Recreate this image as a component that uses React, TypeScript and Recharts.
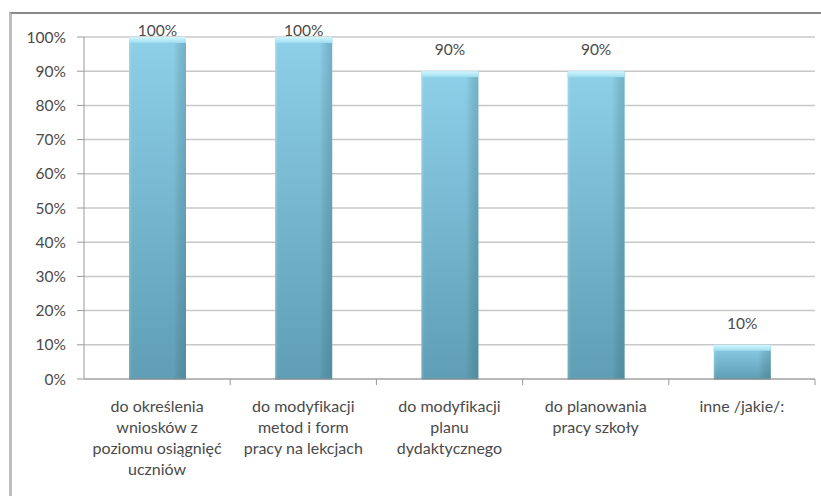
import React from "react";
import { BarChart, Bar, XAxis, YAxis, CartesianGrid, LabelList } from "recharts";

const categories: string[] = [
  "do określenia\nwniosków z\npoziomu osiągnięć\nuczniów",
  "do modyfikacji\nmetod i form\npracy na lekcjach",
  "do modyfikacji\nplanu\ndydaktycznego",
  "do planowania\npracy szkoły",
  "inne /jakie/:",
];
const values: number[] = [100, 100, 90, 90, 10];
const yTicks: number[] = [0, 10, 20, 30, 40, 50, 60, 70, 80, 90, 100];

const data = categories.map((c, i) => ({ name: c, value: values[i] }));

const FONT = "Lato, 'Open Sans', sans-serif";
const TEXT = "#4a4a4a";
const W = 821;
const H = 496;
const MARGIN = { top: 37, right: 6, left: 24, bottom: 17 };
const YAXIS_W = 60;
const BAND_HALF = (W - MARGIN.left - YAXIS_W - MARGIN.right) / categories.length / 2;

const BarShape = (props: any) => {
  const { x, y, width, height } = props;
  if (!height || height <= 0) return null;
  return (
    <g>
      <rect x={x} y={y} width={width} height={height} fill="url(#barGrad)" />
      <rect x={x} y={y} width={width} height={height} fill="url(#barSide)" />
      <rect x={x} y={y} width={width} height={Math.min(6, height)} fill="url(#barTop)" />
      <line x1={x} x2={x + width} y1={y + height} y2={y + height} stroke="#4f7f90" strokeWidth={1} />
    </g>
  );
};

const ValueLabel = (props: any) => {
  const { x, y, width, value } = props;
  const baseline = Math.max(y - 16, MARGIN.top - 1);
  return (
    <text
      x={x + width / 2}
      y={baseline}
      textAnchor="middle"
      fontFamily={FONT}
      fontSize={15.5}
      fill={TEXT}
    >
      {`${value}%`}
    </text>
  );
};

const XTick = (props: any) => {
  const { x, y, payload } = props;
  const lines = String(payload.value).split("\n");
  return (
    <g>
      <line x1={x + BAND_HALF} x2={x + BAND_HALF} y1={y - 8} y2={y - 2} stroke="#999" />
      <text
        x={x}
        y={y + 25}
        textAnchor="middle"
        fontFamily={FONT}
        fontSize={16}
        fill={TEXT}
        style={{ fontVariantLigatures: "none" }}
      >
        {lines.map((l, i) => (
          <tspan key={i} x={x} dy={i === 0 ? 0 : 21}>
            {l}
          </tspan>
        ))}
      </text>
    </g>
  );
};

export default function App() {
  return (
    <div style={{ position: "fixed", left: 0, top: 0, width: W, height: H, background: "#fff" }}>
      <div
        style={{
          position: "absolute",
          left: 9,
          top: 12,
          width: W - 9,
          height: H - 12,
          borderTop: "2px solid #8a8a8a",
          borderLeft: "3px solid #bdbdbd",
          boxSizing: "border-box",
        }}
      />
      <div style={{ position: "absolute", left: 0, top: 0 }}>
        <BarChart width={W} height={H} data={data} margin={MARGIN} barSize={57}>
          <defs>
            <linearGradient id="barGrad" x1="0" y1="0" x2="0" y2="1">
              <stop offset="0%" stopColor="#8dd0e8" />
              <stop offset="100%" stopColor="#5f9eb4" />
            </linearGradient>
            <linearGradient id="barSide" x1="0" y1="0" x2="1" y2="0">
              <stop offset="0%" stopColor="#ffffff" stopOpacity={0.15} />
              <stop offset="6%" stopColor="#ffffff" stopOpacity={0} />
              <stop offset="78%" stopColor="#000000" stopOpacity={0} />
              <stop offset="100%" stopColor="#1d4a5a" stopOpacity={0.22} />
            </linearGradient>
            <linearGradient id="barTop" x1="0" y1="0" x2="0" y2="1">
              <stop offset="0%" stopColor="#d2f7ff" />
              <stop offset="100%" stopColor="#9ddcef" />
            </linearGradient>
          </defs>
          <CartesianGrid vertical={false} stroke="#c8c8c8" strokeWidth={1.5} />
          <XAxis
            dataKey="name"
            interval={0}
            height={100}
            stroke="#9a9a9a"
            tickLine={false}
            tick={<XTick />}
          />
          <YAxis
            width={YAXIS_W}
            domain={[0, 100]}
            ticks={yTicks}
            interval={0}
            tickFormatter={(v: number) => `${v}%`}
            stroke="#9a9a9a"
            tickSize={7}
            tickMargin={11}
            tick={{ fontFamily: FONT, fontSize: 15.5, fill: TEXT }}
          />
          <Bar dataKey="value" shape={<BarShape />} isAnimationActive={false}>
            <LabelList dataKey="value" content={<ValueLabel />} />
          </Bar>
        </BarChart>
      </div>
    </div>
  );
}
